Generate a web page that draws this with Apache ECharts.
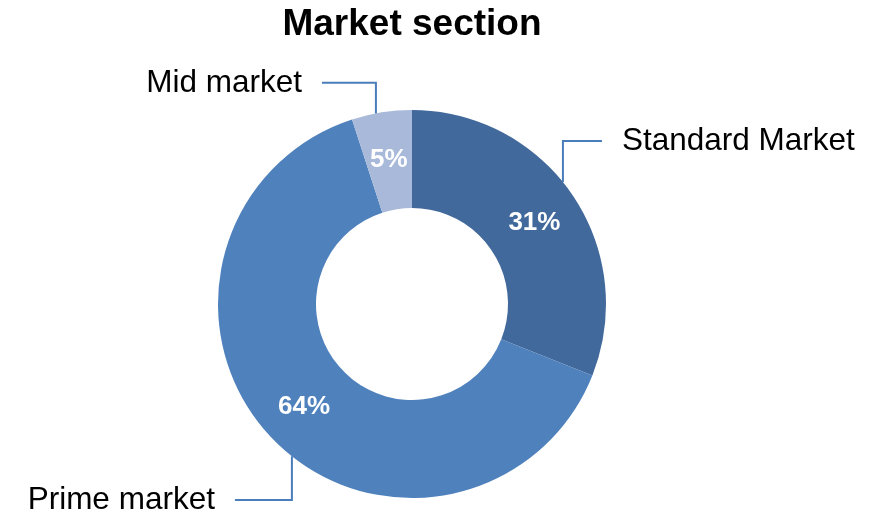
<!DOCTYPE html>
<html>
<head>
<meta charset="utf-8">
<script src="https://cdn.jsdelivr.net/npm/echarts@6/dist/echarts.min.js"></script>
<style>
  html, body { margin: 0; padding: 0; background: #fff; }
  #chart { width: 872px; height: 515px; }
</style>
</head>
<body>
<div id="chart"></div>
<script>
// Market share by section (percent)
const categories = ['Standard Market', 'Prime market', 'Mid market'];
const shares = [31, 64, 5];
const colors = ['#41699b', '#4f81bd', '#a8b9d9'];
const chartTitle = 'Market section';

const FONT = '"Liberation Sans", Arial, Helvetica, sans-serif';
const CX = 412, CY = 304, R_IN = 96, R_OUT = 194;

// Elbow leader lines: vertical drop at a fraction of the radius, then a horizontal run.
// dx: x of the vertical segment (fraction of R), ey: y of the elbow (fraction of R),
// run: horizontal length (px), side: +1 label to the right, -1 to the left.
const leaders = [
  { dx: 0.778, ey: -0.84, run: 39, side: 1 },
  { dx: -0.619, ey: 1.01, run: 57, side: -1 },
  { dx: -0.186, ey: -1.14, run: 54, side: -1 }
];
const GAP = 20;

const data = categories.map((name, i) => ({
  name, value: shares[i], itemStyle: { color: colors[i] }
}));

const chart = echarts.init(document.getElementById('chart'), null, { renderer: 'canvas' });
chart.setOption({
  animation: false,
  backgroundColor: '#ffffff',
  graphic: [{
    type: 'text',
    x: CX,
    y: 25,
    silent: true,
    style: {
      text: chartTitle,
      fontFamily: FONT,
      fontSize: 37,
      fontWeight: 'bold',
      fill: '#000',
      align: 'center',
      verticalAlign: 'middle'
    }
  }],
  series: [
    {
      type: 'pie',
      center: [CX, CY],
      radius: [R_IN, R_OUT],
      startAngle: 90,
      clockwise: true,
      silent: true,
      itemStyle: { borderWidth: 0 },
      label: {
        show: true,
        position: 'inside',
        formatter: '{c}%',
        color: '#fff',
        fontFamily: FONT,
        fontSize: 26,
        fontWeight: 'bold',
        offset: [0, 2]
      },
      labelLine: { show: false },
      emphasis: { disabled: true },
      data
    },
    {
      type: 'pie',
      center: [CX, CY],
      radius: [R_IN, R_OUT],
      startAngle: 90,
      clockwise: true,
      silent: true,
      z: 3,
      itemStyle: { color: 'rgba(0,0,0,0)', borderWidth: 0 },
      label: {
        show: true,
        position: 'outside',
        formatter: '{b}',
        color: '#000',
        fontFamily: FONT,
        fontSize: 31.5
      },
      labelLine: { show: true, lineStyle: { color: '#4a7ebb', width: 2 } },
      labelLayout: function (params) {
        const L = leaders[params.dataIndex];
        const vx = CX + L.dx * R_OUT;
        const dy = Math.sqrt(R_OUT * R_OUT - (vx - CX) * (vx - CX));
        const ey = CY + L.ey * R_OUT;
        const sy = ey < CY ? CY - dy : CY + dy;
        const endX = vx + L.side * L.run;
        return {
          x: endX + L.side * GAP,
          y: ey,
          align: L.side > 0 ? 'left' : 'right',
          verticalAlign: 'middle',
          labelLinePoints: [[vx, sy], [vx, ey], [endX, ey]]
        };
      },
      emphasis: { disabled: true },
      data: categories.map((name, i) => ({ name, value: shares[i] }))
    }
  ]
});
</script>
</body>
</html>
